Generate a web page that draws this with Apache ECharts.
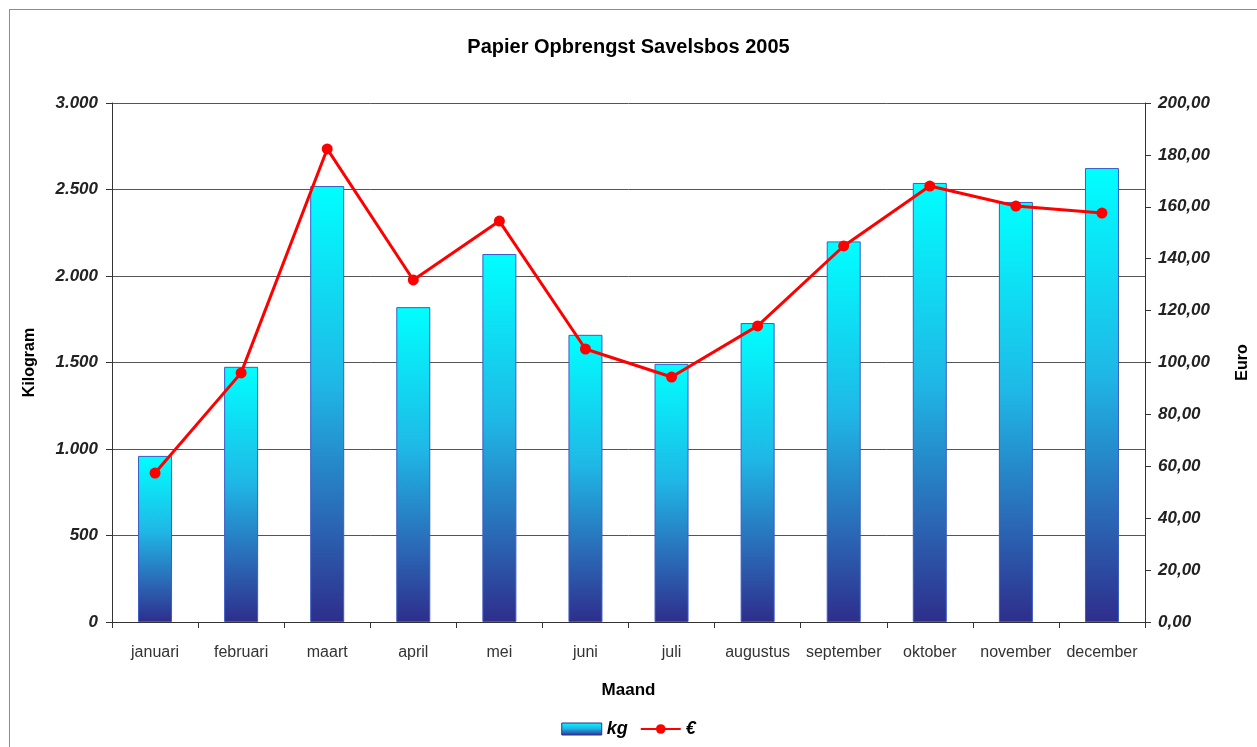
<!DOCTYPE html>
<html>
<head>
<meta charset="utf-8">
<script src="https://cdn.jsdelivr.net/npm/echarts@6/dist/echarts.min.js"></script>
<style>
  html, body { margin: 0; padding: 0; background: #fff; overflow: hidden; }
  #frame { position: absolute; left: 9px; top: 9px; width: 1400px; height: 900px; border: 1px solid #8c8c8c; }
  #main { position: absolute; left: 0; top: 0; width: 1257px; height: 747px; }
</style>
</head>
<body>
<div id="frame"></div>
<div id="main"></div>
<script>
const months = ['januari', 'februari', 'maart', 'april', 'mei', 'juni', 'juli',
  'augustus', 'september', 'oktober', 'november', 'december'];
const kgValues = [960, 1475, 2520, 1820, 2127, 1660, 1492, 1728, 2200, 2538, 2428, 2624];
const euroValues = [57.4, 96.0, 182.3, 131.8, 154.5, 105.2, 94.4, 114.1, 144.9, 168.0, 160.3, 157.6];

const chartDom = document.getElementById('main');
const myChart = echarts.init(chartDom);

// getal met punt als duizendtal-scheiding
const fmtKg = v => String(v).replace(/\B(?=(\d{3})+(?!\d))/g, '.');
const fmtEuro = v => v.toFixed(2).replace('.', ',');

const barGradient = new echarts.graphic.LinearGradient(0, 0, 0, 1, [
  { offset: 0, color: '#00ffff' },
  { offset: 0.45, color: '#1fb8e6' },
  { offset: 0.75, color: '#2a6cb8' },
  { offset: 1, color: '#2e2e8c' }
]);

const option = {
  backgroundColor: 'transparent',
  animation: false,
  title: {
    text: 'Papier Opbrengst Savelsbos 2005',
    left: 'center',
    top: 32,
    textStyle: { fontFamily: 'Liberation Sans', fontSize: 20, fontWeight: 'bold', color: '#000' }
  },
  legend: {
    bottom: 4,
    left: 'center',
    itemGap: 12,
    itemWidth: 40,
    itemHeight: 12,
    textStyle: { fontFamily: 'Liberation Sans', fontSize: 18, fontStyle: 'italic', fontWeight: 'bold', color: '#000' },
    data: [
      { name: 'kg', icon: 'rect', itemStyle: { color: barGradient, borderColor: '#2e3192', borderWidth: 1 } },
      { name: '€' }
    ]
  },
  grid: { left: 112, right: 112, top: 103, bottom: 125, outerBoundsMode: 'none' },
  xAxis: {
    type: 'category',
    data: months,
    boundaryGap: true,
    name: 'Maand',
    nameLocation: 'middle',
    nameGap: 60,
    nameTextStyle: { fontFamily: 'Liberation Sans', fontSize: 17, fontWeight: 'bold', color: '#000' },
    axisLine: { lineStyle: { color: '#333', width: 1 } },
    axisTick: { show: true, interval: 0, length: 6, lineStyle: { color: '#333' } },
    axisLabel: { interval: 0, margin: 23, fontFamily: 'Liberation Sans', fontSize: 16, color: '#333' }
  },
  yAxis: [
    {
      type: 'value',
      min: 0,
      max: 3000,
      interval: 500,
      name: 'Kilogram',
      nameLocation: 'middle',
      nameGap: 74,
      nameTextStyle: { fontFamily: 'Liberation Sans', fontSize: 16, fontWeight: 'bold', color: '#000' },
      axisLine: { show: true, lineStyle: { color: '#333' } },
      axisTick: { show: true, length: 6, lineStyle: { color: '#333' } },
      axisLabel: {
        margin: 14,
        formatter: fmtKg,
        fontFamily: 'Liberation Sans', fontSize: 17, fontStyle: 'italic', fontWeight: 'bold', color: '#222'
      },
      splitLine: { show: true, lineStyle: { color: '#555', width: 1 } }
    },
    {
      type: 'value',
      min: 0,
      max: 200,
      interval: 20,
      name: 'Euro',
      nameLocation: 'middle',
      nameGap: 90,
      nameTextStyle: { fontFamily: 'Liberation Sans', fontSize: 16, fontWeight: 'bold', color: '#000' },
      axisLine: { show: true, lineStyle: { color: '#333' } },
      axisTick: { show: true, length: 6, lineStyle: { color: '#333' } },
      axisLabel: {
        margin: 13,
        formatter: fmtEuro,
        fontFamily: 'Liberation Sans', fontSize: 17, fontStyle: 'italic', fontWeight: 'bold', color: '#222'
      },
      splitLine: { show: false }
    }
  ],
  series: [
    {
      name: 'kg',
      type: 'bar',
      yAxisIndex: 0,
      barWidth: 34,
      data: kgValues,
      itemStyle: { color: barGradient, borderColor: '#3a5cc8', borderWidth: 1 }
    },
    {
      name: '€',
      type: 'line',
      yAxisIndex: 1,
      data: euroValues,
      symbol: 'circle',
      symbolSize: 11,
      lineStyle: { color: '#ff0000', width: 3 },
      itemStyle: { color: '#ff0000' },
      z: 5
    }
  ]
};

option && myChart.setOption(option);
</script>
</body>
</html>
